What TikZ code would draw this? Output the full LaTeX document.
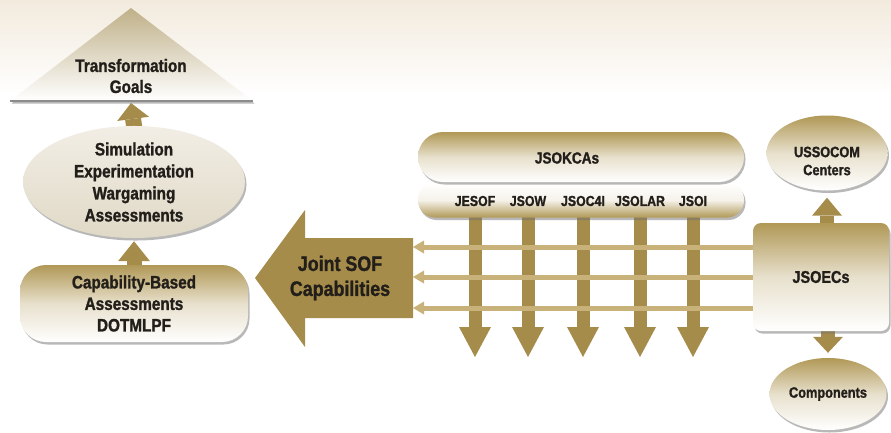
\documentclass[tikz,border=0pt]{standalone}
\usepackage{fontspec}
\setmainfont{Liberation Sans}[FakeStretch=0.85, BoldFeatures={FakeBold=1.3}]
\usetikzlibrary{arrows.meta,shadows,shapes.geometric,calc}
\definecolor{gold}{HTML}{A68C4A}
\definecolor{hgold}{HTML}{C8B27A}
\definecolor{tan}{HTML}{B09856}
\definecolor{tritop}{HTML}{BFB088}
\definecolor{simtop}{HTML}{F2EEE5}
\definecolor{simbot}{HTML}{E0D9C7}
\definecolor{bgtop}{HTML}{F2EADD}
\definecolor{txt}{HTML}{221E1A}
\pgfdeclarelayer{back}
\pgfdeclarelayer{under}
\pgfsetlayers{back,under,main}
\tikzset{
  lbl/.style 2 args={text=txt, align=center, inner sep=0pt, font=\bfseries\fontsize{#1}{#2}\selectfont},
  shad/.style={drop shadow={shadow xshift=1.5pt, shadow yshift=-2.5pt, fill=black!55, opacity=0.5}},
  goldfade/.style={top color=tan, bottom color=white, middle color=tan!30!white},
  fatarrow/.style n args={3}{draw=gold, line width=#1, -{Triangle[width=#2, length=#3, line width=0pt]}},
  harrow/.style={draw=hgold, line width=5pt, -{Triangle[width=13pt, length=11pt, line width=0pt]}},
}
\begin{document}
\begin{tikzpicture}[x=1pt,y=-1pt]
\useasboundingbox (0,0) rectangle (891,432);
\begin{pgfonlayer}{back}
  \fill[white] (0,0) rectangle (891,432);
  \shade[top color=bgtop, bottom color=white] (0,0) rectangle (891,95);
\end{pgfonlayer}

% Transformation goals triangle
\path[shad, top color=tritop, bottom color=white] (131,8) -- (253,101) -- (10,101) -- cycle;
\draw[black!45, line width=1.5pt] (10,101) -- (253,101);
\node[lbl={18}{21}] (goals) at (131,76) {Transformation\\Goals};
\coordinate (tribase) at (131,103);

% left column
\node[shad, ellipse, minimum width=222pt, minimum height=110pt, top color=simtop, bottom color=simbot, lbl={18}{22}] (sim) at (134,182) {Simulation\\Experimentation\\Wargaming\\Assessments};
\node[shad, rectangle, rounded corners=26pt, minimum width=228pt, minimum height=77pt, goldfade, lbl={18}{21.5}] (cba) at (134,303.5) {Capability-Based\\Assessments\\DOTMLPF};

% big arrow
\fill[gold] (255,278) -- (305,210) -- (305,238) -- (413,238) -- (413,318) -- (305,318) -- (305,347) -- cycle;
\node[lbl={21}{25}] (jsof) at (340,278) {Joint SOF\\Capabilities};
\coordinate (h1) at (413,247);
\coordinate (h2) at (413,277);
\coordinate (h3) at (413,308);

% JSOKCAs
\node[shad, rectangle, rounded corners=17pt, minimum width=326pt, minimum height=35pt, top color=white, bottom color=tan, middle color=white!88!tan] (row) at (581,200) {};
\node[shad, rectangle, rounded corners=25pt, minimum width=326pt, minimum height=50pt, goldfade] (kca) at (581,157) {};
\node[lbl={16}{18}] (kcat) at (567,158) {JSOKCAs};
\foreach \n/\x/\t in {1/475/JESOF, 2/528/JSOW, 3/583/JSOC4I, 4/640/JSOLAR, 5/693/JSOI}
  \node[lbl={14.5}{17}] (l\n) at (\x,201) {\t};
\coordinate (kbot) at (600,357);

% right column
\node[shad, rectangle, rounded corners=8pt, minimum width=136pt, minimum height=108pt, goldfade, lbl={17}{20}] (jsoec) at (821,277) {JSOECs};
\node[shad, ellipse, minimum width=121pt, minimum height=75pt, goldfade] (uss) at (827,153) {};
\node[lbl={15}{18}] (usst) at (827,161) {USSOCOM\\Centers};
\node[shad, ellipse, minimum width=117pt, minimum height=72pt, goldfade, lbl={15}{18}] (comp) at (828,394) {Components};

% connectors
\begin{pgfonlayer}{under}
  \draw[fatarrow={16pt}{32pt}{16pt}, shorten <=-8pt] (sim.north) -- (tribase);
  \draw[fatarrow={15pt}{32pt}{20pt}, shorten <=-8pt, shorten >=3pt] (cba.north) -- (sim.south);
  \foreach \n in {1,...,5}
    \draw[fatarrow={13pt}{32pt}{30pt}, shorten <=-6pt] (l\n |- row.south) -- (l\n |- kbot);
  \foreach \h in {h1,h2,h3}
    \draw[harrow, shorten <=-6pt] (\h -| jsoec.west) -- (\h);
  \draw[fatarrow={14pt}{30pt}{18pt}, shorten <=-6pt, shorten >=7pt] (uss.south |- jsoec.north) -- (uss.south);
  \draw[fatarrow={14pt}{30pt}{16pt}, shorten <=-6pt, shorten >=5pt] (comp.north |- jsoec.south) -- (comp.north);
\end{pgfonlayer}
\end{tikzpicture}
\end{document}
